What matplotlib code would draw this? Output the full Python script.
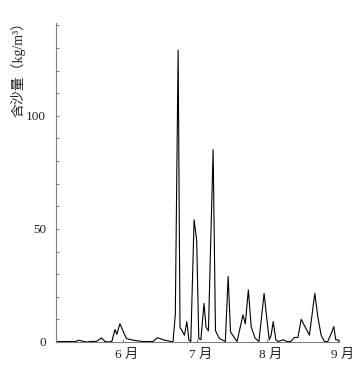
import numpy as np
import matplotlib
matplotlib.use('Agg')
import matplotlib.pyplot as plt
import matplotlib.transforms as mtransforms


# days counted from 1 June (negative = May)
Days = [-28.2, -20.0, -19.0, -16.9, -15.4, -14.0, -11.2, -9.1, -7.7, -6.0,
        -4.7, -3.4, -2.6, -1.3, 0.4, 1.5, 4.4, 8.5, 12.8, 14.7,
        17.1, 21.3, 22.3, 23.5, 24.3, 26.2, 27.2, 28.1, 28.9, 30.3,
        31.4, 32.3, 33.2, 34.5, 35.4, 36.4, 38.4, 39.4, 41.1, 42.1,
        43.6, 44.8, 45.8, 47.7, 48.6, 51.1, 52.1, 53.4, 54.6, 56.2,
        57.9, 60.1, 61.4, 62.3, 63.1, 64.0, 65.1, 66.1, 68.3, 69.8,
        71.5, 73.0, 74.5, 75.9, 79.4, 81.7, 83.0, 84.4, 85.8, 87.2,
        88.4, 89.8, 90.6, 91.5, 91.9]
Sediment = [0.2, 0.2, 0.8, 0.3, 0.0, 0.2, 0.3, 1.8, 0.3, 0.0,
            0.3, 5.5, 3.4, 8.1, 4.0, 1.5, 0.8, 0.2, 0.2, 1.9,
            1.0, 0.0, 12.0, 129.0, 6.5, 3.0, 9.0, 0.8, 0.2, 54.0,
            45.0, 1.5, 1.0, 17.0, 6.5, 5.0, 85.0, 5.0, 1.5, 1.0,
            0.2, 29.0, 4.5, 1.5, 0.2, 12.0, 8.0, 23.0, 6.8, 1.8,
            0.2, 21.5, 9.0, 1.0, 3.0, 9.0, 1.0, 0.2, 1.0, 0.2,
            0.2, 2.0, 2.0, 10.0, 3.0, 21.5, 11.0, 3.0, 0.2, 0.2,
            3.0, 6.8, 1.0, 1.0, 0.2]

MonthTicks = [0, 31.5, 61.3, 92]
MonthLabels = ['6 月', '7 月', '8 月', '9 月']
YTicks = [0, 50, 100]
YLabel = '含沙量（kg/m³）'

fonts = ['Liberation Serif', 'Noto Sans CJK SC']
plt.rcParams['font.family'] = fonts

fig = plt.figure(figsize=(3.57, 3.65), dpi=100)
ax = fig.add_axes([56 / 357, 1 - 342 / 365, (339 - 56) / 357, (342 - 23) / 365])

ax.plot(Days, Sediment, color='black', linewidth=0.8)

ax.set_xlim(-28.5, 92)
ax.set_ylim(0, 141)

ax.spines['top'].set_visible(False)
ax.spines['right'].set_visible(False)
for side in ['left', 'bottom']:
    ax.spines[side].set_color('#808080')
    ax.spines[side].set_linewidth(0.8)

ax.set_yticks(YTicks)
ax.set_yticks(np.arange(0, 141, 10), minor=True)
ax.set_xticks(MonthTicks)
ax.set_xticklabels(MonthLabels)
ax.tick_params(axis='both', which='both', direction='in', color='#808080', length=2.5, width=0.8,
               labelsize=9.5, labelcolor='#222222')
ax.tick_params(axis='y', pad=7)
ax.tick_params(axis='x', pad=5)

# month labels sit a little right of their ticks in the original
shift = mtransforms.ScaledTranslation(4 / 100, 0, fig.dpi_scale_trans)
for lab in ax.get_xticklabels():
    lab.set_transform(lab.get_transform() + shift)

fig.text(18 / 357, 1 - 66 / 365, YLabel, rotation=90, ha='center', va='center', fontsize=10,
         color='#222222', family=fonts)

fig.savefig('out.png', dpi=100)
